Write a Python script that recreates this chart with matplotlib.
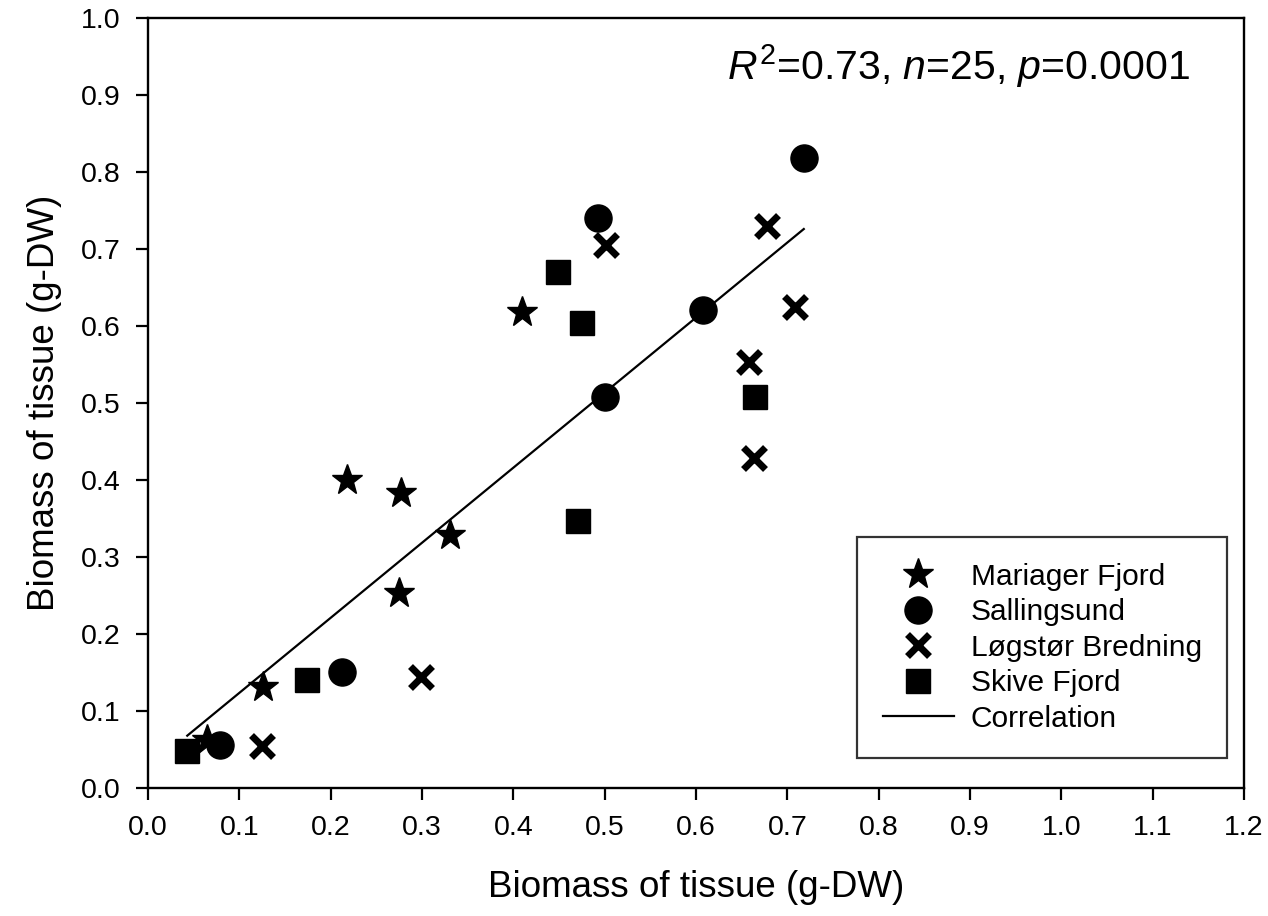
import numpy as np
import matplotlib
matplotlib.use("Agg")
import matplotlib.pyplot as plt

plt.rcParams['font.family'] = ['Liberation Sans', 'DejaVu Sans']
plt.rcParams['mathtext.fontset'] = 'custom'
plt.rcParams['mathtext.rm'] = 'Liberation Sans'
plt.rcParams['mathtext.it'] = 'Liberation Sans:italic'

# values
mariager_x = [0.065, 0.126, 0.275, 0.218, 0.277, 0.331, 0.410]
mariager_y = [0.062, 0.131, 0.253, 0.400, 0.383, 0.329, 0.618]

salling_x = [0.079, 0.212, 0.500, 0.608, 0.493, 0.718]
salling_y = [0.056, 0.151, 0.508, 0.621, 0.740, 0.818]

logstor_x = [0.125, 0.299, 0.501, 0.678, 0.708, 0.658, 0.664]
logstor_y = [0.055, 0.144, 0.705, 0.730, 0.625, 0.553, 0.429]

skive_x = [0.043, 0.174, 0.449, 0.475, 0.665, 0.471]
skive_y = [0.048, 0.140, 0.670, 0.604, 0.508, 0.347]

fit_x = [0.043, 0.718]
fit_y = [0.068, 0.726]

x_ticks = np.round(np.arange(0, 1.21, 0.1), 1)
y_ticks = np.round(np.arange(0, 1.01, 0.1), 1)

fig = plt.figure(figsize=(12.68, 9.16), dpi=100)
ax = fig.add_axes([0.1167, 0.1397, 0.8644, 0.8406])

ax.plot(mariager_x, mariager_y, linestyle='none', marker='*', markersize=23,
        color='black', label='Mariager Fjord')
ax.plot(salling_x, salling_y, linestyle='none', marker='o', markersize=19.5,
        color='black', label='Sallingsund')
ax.plot(logstor_x, logstor_y, linestyle='none', marker='x', markersize=16,
        markeredgewidth=5, color='black', label='Løgstør Bredning')
ax.plot(skive_x, skive_y, linestyle='none', marker='s', markersize=17.5,
        color='black', label='Skive Fjord')
ax.plot(fit_x, fit_y, color='black', linewidth=1.6, label='Correlation')

ax.set_xlim(0, 1.2)
ax.set_ylim(0, 1.0)
ax.set_xticks(x_ticks)
ax.set_yticks(y_ticks)
ax.set_xticklabels([f'{v:.1f}' for v in x_ticks])
ax.set_yticklabels([f'{v:.1f}' for v in y_ticks])
ax.tick_params(direction='out', length=8.6, width=1.6, labelsize=20.5, pad=11)
for sp in ax.spines.values():
    sp.set_linewidth(1.7)

ax.set_xlabel('Biomass of tissue (g-DW)', fontsize=26.5, labelpad=21)
ax.set_ylabel('Biomass of tissue (g-DW)', fontsize=26.5, labelpad=14)

ax.text(0.9507, 0.9195, r'$\mathit{R}^2$=0.73, $\mathit{n}$=25, $\mathit{p}$=0.0001',
        transform=ax.transAxes, ha='right', va='baseline', fontsize=29.5)

leg = ax.legend(loc='lower right', bbox_to_anchor=(0.9845, 0.039),
                borderaxespad=0, fontsize=21.5, frameon=True, fancybox=False,
                edgecolor='black', borderpad=0.85, handlelength=2.37,
                labelspacing=0.25, handletextpad=0.57, markerscale=1.0)
leg.get_frame().set_linewidth(1.6)

fig.savefig('out.png', dpi=100)
